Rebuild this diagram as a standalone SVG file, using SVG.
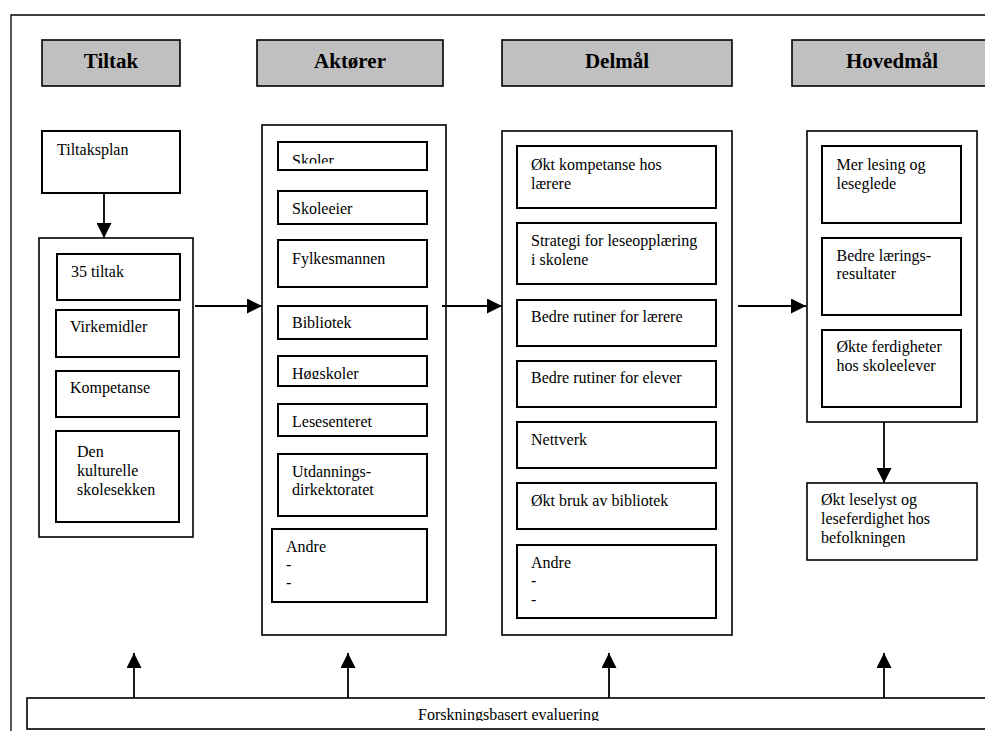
<svg xmlns="http://www.w3.org/2000/svg" width="985" height="731" viewBox="0 0 985 731">
<style>
  .frame{fill:none;stroke:#000;stroke-width:1.3}
  .hdr{fill:#c0c0c0;stroke:#000;stroke-width:1.6}
  .cont{fill:#fff;stroke:#000;stroke-width:1.6}
  .box{fill:#fff;stroke:#000;stroke-width:2}
  .h{font-family:"Liberation Serif","Times New Roman",serif;font-size:21px;font-weight:bold;text-anchor:middle;fill:#000}
  .t{font-family:"Liberation Serif","Times New Roman",serif;font-size:16px;fill:#000}
  .ln{stroke:#000;stroke-width:1.8;fill:none}
</style>
<defs>
  <marker id="ah" viewBox="0 0 15 15" refX="15" refY="7.5" markerWidth="15" markerHeight="15" orient="auto" markerUnits="userSpaceOnUse">
    <path d="M0,0 L15,7.5 L0,15 z" fill="#000"/>
  </marker>
  <clipPath id="cSkoler"><rect x="278" y="142" width="149" height="21.5"/></clipPath>
  <clipPath id="cHog"><rect x="278" y="356" width="149" height="23"/></clipPath>
  <clipPath id="cEval"><rect x="27" y="698" width="958" height="23"/></clipPath>
</defs>
<rect width="985" height="731" fill="#fff"/>
<g id="frame">
  <path class="frame" d="M11,731 L11,15 L985,15"/>
</g>

<g id="hdr-tiltak"><rect class="hdr" x="42" y="40" width="138" height="46"/><text class="h" x="111" y="68">Tiltak</text></g>
<g id="hdr-aktorer"><rect class="hdr" x="257" y="40" width="186" height="46"/><text class="h" x="350" y="68">Aktører</text></g>
<g id="hdr-delmal"><rect class="hdr" x="502" y="40" width="230" height="46"/><text class="h" x="617" y="68">Delmål</text></g>
<g id="hdr-hovedmal"><rect class="hdr" x="792" y="40" width="200" height="46"/><text class="h" x="892" y="68">Hovedmål</text></g>

<g id="tiltaksplan"><rect class="box" x="42" y="131" width="138" height="62"/><text class="t" x="57" y="155">Tiltaksplan</text></g>

<g id="tiltak">
  <rect class="cont" x="39" y="238" width="154" height="299"/>
  <g id="t-35"><rect class="box" x="57" y="254" width="123" height="46"/><text class="t" x="71" y="277">35 tiltak</text></g>
  <g id="t-virk"><rect class="box" x="56" y="310" width="123" height="47"/><text class="t" x="70" y="332">Virkemidler</text></g>
  <g id="t-komp"><rect class="box" x="56" y="371" width="123" height="46"/><text class="t" x="70" y="393">Kompetanse</text></g>
  <g id="t-dks"><rect class="box" x="56" y="431" width="123" height="91"/><text class="t" x="77" y="457">Den</text><text class="t" x="77" y="476">kulturelle</text><text class="t" x="77" y="495">skolesekken</text></g>
</g>

<g id="aktorer">
  <rect class="cont" x="262" y="125" width="184" height="510"/>
  <g id="a-skoler"><rect class="box" x="278" y="142" width="149" height="28"/><text class="t" x="292" y="166" clip-path="url(#cSkoler)">Skoler</text></g>
  <g id="a-skoleeier"><rect class="box" x="278" y="191" width="149" height="33"/><text class="t" x="292" y="213.5">Skoleeier</text></g>
  <g id="a-fylkes"><rect class="box" x="278" y="240" width="149" height="47"/><text class="t" x="292" y="263.5">Fylkesmannen</text></g>
  <g id="a-bibl"><rect class="box" x="278" y="306" width="149" height="33"/><text class="t" x="292" y="328">Bibliotek</text></g>
  <g id="a-hog"><rect class="box" x="278" y="356" width="149" height="30"/><text class="t" x="292" y="378.5" clip-path="url(#cHog)">Høgskoler</text></g>
  <g id="a-lese"><rect class="box" x="278" y="404" width="149" height="32"/><text class="t" x="292" y="427">Lesesenteret</text></g>
  <g id="a-udir"><rect class="box" x="278" y="454" width="149" height="62"/><text class="t" x="292" y="476.5">Utdannings-</text><text class="t" x="292" y="495">dirkektoratet</text></g>
  <g id="a-andre"><rect class="box" x="272" y="529" width="155" height="73"/><text class="t" x="286" y="551.5">Andre</text><text class="t" x="286" y="570">-</text><text class="t" x="286" y="588">-</text></g>
</g>

<g id="delmal">
  <rect class="cont" x="502" y="131" width="230" height="504"/>
  <g id="d-komp"><rect class="box" x="517" y="146" width="199" height="62"/><text class="t" x="531" y="170">Økt kompetanse hos</text><text class="t" x="531" y="189">lærere</text></g>
  <g id="d-strat"><rect class="box" x="517" y="223" width="199" height="61"/><text class="t" x="531" y="245.5">Strategi for leseopplæring</text><text class="t" x="531" y="264.5">i skolene</text></g>
  <g id="d-rutl"><rect class="box" x="517" y="300" width="199" height="46"/><text class="t" x="531" y="321.5">Bedre rutiner for lærere</text></g>
  <g id="d-rute"><rect class="box" x="517" y="361" width="199" height="46"/><text class="t" x="531" y="382.5">Bedre rutiner for elever</text></g>
  <g id="d-nett"><rect class="box" x="517" y="422" width="199" height="46"/><text class="t" x="531" y="445">Nettverk</text></g>
  <g id="d-bibl"><rect class="box" x="517" y="483" width="199" height="46"/><text class="t" x="531" y="505.5">Økt bruk av bibliotek</text></g>
  <g id="d-andre"><rect class="box" x="517" y="545" width="199" height="73"/><text class="t" x="531" y="567.5">Andre</text><text class="t" x="531" y="586">-</text><text class="t" x="531" y="604.5">-</text></g>
</g>

<g id="hovedmal">
  <rect class="cont" x="807" y="131" width="170" height="291"/>
  <g id="h-lesing"><rect class="box" x="822" y="146" width="139" height="77"/><text class="t" x="836.5" y="170">Mer lesing og</text><text class="t" x="836.5" y="189">leseglede</text></g>
  <g id="h-lar"><rect class="box" x="822" y="238" width="139" height="77"/><text class="t" x="836.5" y="260.5">Bedre lærings-</text><text class="t" x="836.5" y="279">resultater</text></g>
  <g id="h-ferd"><rect class="box" x="822" y="330" width="139" height="77"/><text class="t" x="836.5" y="351.5">Økte ferdigheter</text><text class="t" x="836.5" y="370.5">hos skoleelever</text></g>
</g>

<g id="leselyst"><rect class="cont" x="807" y="483" width="170" height="77"/><text class="t" x="821" y="504.5">Økt leselyst og</text><text class="t" x="821" y="524">leseferdighet hos</text><text class="t" x="821" y="543">befolkningen</text></g>

<g id="evaluering"><rect class="cont" x="27" y="698" width="970" height="31"/><text class="t" x="508.5" y="719.5" text-anchor="middle" clip-path="url(#cEval)">Forskningsbasert evaluering</text></g>

<g id="connectors">
  <line class="ln" x1="104" y1="193" x2="104" y2="238" marker-end="url(#ah)"/>
  <line class="ln" x1="195" y1="306" x2="262" y2="306" marker-end="url(#ah)"/>
  <line class="ln" x1="442" y1="306" x2="502" y2="306" marker-end="url(#ah)"/>
  <line class="ln" x1="738" y1="306" x2="806" y2="306" marker-end="url(#ah)"/>
  <line class="ln" x1="884" y1="422" x2="884" y2="483" marker-end="url(#ah)"/>
  <line class="ln" x1="134" y1="698" x2="134" y2="653" marker-end="url(#ah)"/>
  <line class="ln" x1="348" y1="698" x2="348" y2="653" marker-end="url(#ah)"/>
  <line class="ln" x1="609" y1="698" x2="609" y2="653" marker-end="url(#ah)"/>
  <line class="ln" x1="884" y1="698" x2="884" y2="653" marker-end="url(#ah)"/>
</g>
</svg>
